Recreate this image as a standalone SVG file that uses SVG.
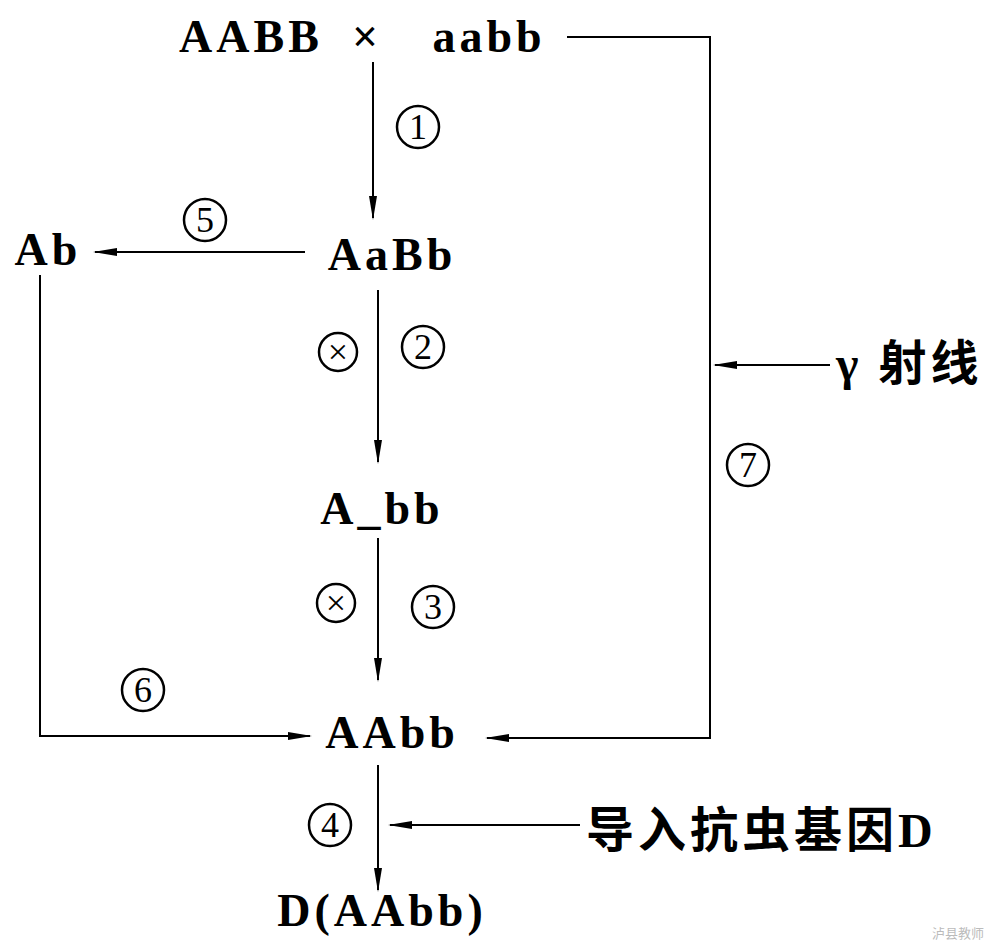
<svg xmlns="http://www.w3.org/2000/svg" width="1000" height="946" viewBox="0 0 1000 946">
<defs>
<marker id="ah" markerWidth="24" markerHeight="10" refX="22" refY="5" orient="auto" markerUnits="userSpaceOnUse"><path d="M0,1 L24,5 L0,9 Z" fill="#000"/></marker>
<style>
.t{font-family:"Liberation Serif",serif;font-weight:bold;font-size:46px;letter-spacing:4px;fill:#000;text-anchor:middle}
.n{font-family:"Liberation Serif",serif;font-size:36px;fill:#000;text-anchor:middle}
.c{fill:none;stroke:#000;stroke-width:2.5}
.l{fill:none;stroke:#000;stroke-width:2}
.cj{font-family:"Liberation Serif","Noto Sans CJK SC",serif;font-weight:bold;font-size:48px;letter-spacing:4px;fill:#000}
</style>
</defs>
<rect width="1000" height="946" fill="#fff"/>
<g id="connectors">
<path class="l" d="M567,37 H710 V738 H487" marker-end="url(#ah)"/>
<path class="l" d="M373,62 V218" marker-end="url(#ah)"/>
<path class="l" d="M305,252 H95" marker-end="url(#ah)"/>
<path class="l" d="M40,275 V736 H310" marker-end="url(#ah)"/>
<path class="l" d="M378,290 V462" marker-end="url(#ah)"/>
<path class="l" d="M378,538 V680" marker-end="url(#ah)"/>
<path class="l" d="M830,365 H715" marker-end="url(#ah)"/>
<path class="l" d="M378,765 V890" marker-end="url(#ah)"/>
<path class="l" d="M580,825 H390" marker-end="url(#ah)"/>
</g>
<g id="n-p"><text class="t" x="251" y="52">AABB</text><text class="t" x="367" y="52">×</text><text class="t" x="489" y="52">aabb</text></g>
<g id="n-f1"><text class="t" x="392" y="270">AaBb</text></g>
<g id="n-ab"><text class="t" x="48" y="265">Ab</text></g>
<g id="n-abb"><text class="t" x="382" y="524">A_bb</text></g>
<g id="n-aabb"><text class="t" x="392" y="748">AAbb</text></g>
<g id="n-d"><text class="t" x="382" y="926">D(AAbb)</text></g>
<g id="n-gamma"><text class="cj" x="836" y="380">γ 射线</text></g>
<g id="n-gene"><text class="cj" x="586" y="847">导入抗虫基因D</text></g>
<g id="labels">
<circle class="c" cx="418" cy="127" r="21"/><text class="n" x="418" y="139">1</text>
<circle class="c" cx="205" cy="220" r="21"/><text class="n" x="205" y="232">5</text>
<circle class="c" cx="423" cy="347" r="21"/><text class="n" x="423" y="359">2</text>
<circle class="c" cx="433" cy="607" r="21"/><text class="n" x="433" y="619">3</text>
<circle class="c" cx="143" cy="690" r="21"/><text class="n" x="143" y="702">6</text>
<circle class="c" cx="748" cy="465" r="21"/><text class="n" x="748" y="477">7</text>
<circle class="c" cx="330" cy="825" r="21"/><text class="n" x="330" y="837">4</text>
<circle class="c" cx="338" cy="352" r="19"/><text class="n" x="338" y="364">×</text>
<circle class="c" cx="336" cy="603" r="19"/><text class="n" x="336" y="615">×</text>
</g>
<text x="958" y="938" font-family="Noto Sans CJK SC,sans-serif" font-size="13" fill="#bbb" text-anchor="middle">泸县教师</text>
</svg>
